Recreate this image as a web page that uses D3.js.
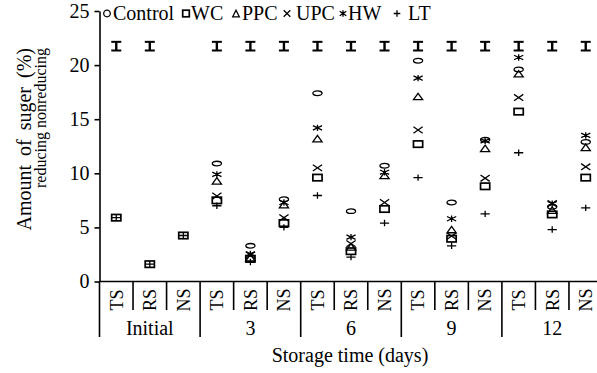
<!DOCTYPE html>
<html>
<head>
<meta charset="utf-8">
<script src="https://cdnjs.cloudflare.com/ajax/libs/d3/7.8.5/d3.min.js"></script>
<style>
  body { margin: 0; background: #fff; overflow: hidden; }
  text { font-family: "Liberation Serif", "Times New Roman", serif; fill: #000; }
</style>
</head>
<body>
<div id="chart"></div>
<script>
// groups along the x axis and the sugar type inside each group
const groups = ['Initial', '3', '6', '9', '12'];
const sugars = ['TS', 'RS', 'NS'];

// amount of sugar (%) for each treatment, one value per group x sugar
const control = [null, null, null, 10.9, 3.3, 7.6, 17.4, 6.5, 10.7, 20.4, 7.3, 13.1, 19.6, 6.9, 12.9];
const wc      = [5.9, 1.6, 4.25, 7.5, 2.1, 5.4, 9.6, 2.8, 6.7, 12.7, 3.95, 8.8, 15.7, 6.2, 9.6];
const ppc     = [null, null, null, 9.3, 2.2, 7.1, 13.2, 3.2, 9.8, 17.1, 4.8, 12.3, 19.2, 6.6, 12.4];
const upc     = [null, null, null, 7.9, 2.45, 5.9, 10.5, 3.5, 7.3, 14.0, 4.2, 9.55, 17.0, 7.2, 10.6];
const hw      = [null, null, null, 9.9, 2.55, 7.3, 14.2, 4.1, 10.1, 18.8, 5.8, 13.0, 20.7, 7.2, 13.5];
const lt      = [5.9, 1.6, 4.25, 7.0, 1.8, 5.0, 7.95, 2.25, 5.4, 9.6, 3.3, 6.25, 11.9, 4.8, 6.8];

// the "I" bars drawn above each column (centre and half height)
const barMid  = [21.75, 21.75, null, 21.75, 21.75, 21.75, 21.75, 21.75, 21.75, 21.75, 21.75, 21.75, 21.75, 21.75, 21.75];
const barHalf = [0.4, 0.4, null, 0.4, 0.4, 0.4, 0.4, 0.4, 0.4, 0.4, 0.4, 0.4, 0.4, 0.4, 0.4];

const yTicks = [0, 5, 10, 15, 20, 25];

const series = [
  { name: 'Control', values: control, shape: 'circle' },
  { name: 'WC', values: wc, shape: 'square' },
  { name: 'PPC', values: ppc, shape: 'triangle' },
  { name: 'UPC', values: upc, shape: 'cross' },
  { name: 'HW', values: hw, shape: 'star' },
  { name: 'LT', values: lt, shape: 'plus' }
];

const width = 597;
const height = 373;

const keys = [];
groups.forEach(g => sugars.forEach(s => keys.push(g + '|' + s)));

const x = d3.scaleBand().domain(keys).range([99.5, 602.5]).padding(0);
const y = d3.scaleLinear().domain([0, 25]).range([281.5, 11]);

const svg = d3.select('#chart')
  .append('svg')
  .attr('width', width)
  .attr('height', height);

svg.append('rect').attr('width', width).attr('height', height).attr('fill', '#fff');

// draws one marker; sx/sy are half width / half height
function marker(g, shape, sx, sy, round) {
  const sw = 1.3;
  if (shape === 'circle') {
    g.append('ellipse').attr('rx', sx).attr('ry', round ? sx : 2.3)
      .attr('fill', 'none').attr('stroke', '#000').attr('stroke-width', sw);
  } else if (shape === 'square') {
    g.append('rect').attr('x', -sx).attr('y', -sy).attr('width', sx * 2).attr('height', sy * 2)
      .attr('fill', 'none').attr('stroke', '#000').attr('stroke-width', sw + 0.4);
  } else if (shape === 'triangle') {
    g.append('path').attr('d', `M${-sx},${sy}L${sx},${sy}L0,${-sy}Z`)
      .attr('fill', 'none').attr('stroke', '#000').attr('stroke-width', sw);
  } else if (shape === 'cross') {
    g.append('path').attr('d', `M${-sx},${-sy}L${sx},${sy}M${-sx},${sy}L${sx},${-sy}`)
      .attr('stroke', '#000').attr('stroke-width', sw);
  } else if (shape === 'star') {
    g.append('path').attr('d', `M${-sx},${-sy * 0.7}L${sx},${sy * 0.7}M${-sx},${sy * 0.7}L${sx},${-sy * 0.7}M0,${-sy}L0,${sy}`)
      .attr('stroke', '#000').attr('stroke-width', sw);
    g.append('circle').attr('r', 1.4).attr('fill', '#000');
  } else if (shape === 'plus') {
    g.append('path').attr('d', `M${-sx},0L${sx},0M0,${-sy}L0,${sy}`)
      .attr('stroke', '#000').attr('stroke-width', sw);
  }
}

// y axis
const yAxis = svg.append('g')
  .attr('transform', 'translate(99.5,0)')
  .call(d3.axisLeft(y).tickValues(yTicks).tickSize(5).tickSizeOuter(0).tickPadding(5));
yAxis.select('.domain').attr('stroke', '#000').attr('stroke-width', 1.6);
yAxis.selectAll('.tick line').attr('stroke', '#000').attr('stroke-width', 1.6);
yAxis.selectAll('.tick text')
  .style('font-family', '"Liberation Serif", "Times New Roman", serif')
  .style('font-size', '20px')
  .attr('fill', '#000');

// extend the axis line down to the group separators
svg.append('line')
  .attr('x1', 99.5).attr('x2', 99.5).attr('y1', y(0)).attr('y2', 337)
  .attr('stroke', '#000').attr('stroke-width', 1.6);

// x axis line and column separators
svg.append('line')
  .attr('x1', 99.5).attr('x2', width).attr('y1', y(0)).attr('y2', y(0))
  .attr('stroke', '#000').attr('stroke-width', 1.6);

keys.forEach((k, i) => {
  if (i === 0) return;
  const xx = x(k);
  const isGroup = i % sugars.length === 0;
  svg.append('line')
    .attr('x1', xx).attr('x2', xx)
    .attr('y1', y(0)).attr('y2', isGroup ? 337 : 310)
    .attr('stroke', '#000').attr('stroke-width', 1.6);
});

// sugar labels, rotated
keys.forEach(k => {
  const cx = x(k) + x.bandwidth() / 2;
  svg.append('text')
    .attr('transform', `translate(${cx},300) rotate(-90)`)
    .attr('text-anchor', 'middle')
    .attr('dy', '0.35em')
    .style('font-size', '18px')
    .text(k.split('|')[1]);
});

// group labels
groups.forEach((g, i) => {
  const x0 = x(g + '|' + sugars[0]);
  const x1 = x(g + '|' + sugars[sugars.length - 1]) + x.bandwidth();
  svg.append('text')
    .attr('x', (x0 + x1) / 2)
    .attr('y', 335)
    .attr('text-anchor', 'middle')
    .style('font-size', '20px')
    .text(g);
});

svg.append('text')
  .attr('x', 350)
  .attr('y', 362)
  .attr('text-anchor', 'middle')
  .style('font-size', '20px')
  .text('Storage time (days)');

// y title, two lines
svg.append('text')
  .attr('transform', 'translate(31,48) rotate(-90)')
  .attr('text-anchor', 'end')
  .style('font-size', '20px')
  .style('word-spacing', '4px')
  .text('Amount of suger (%)');
svg.append('text')
  .attr('transform', 'translate(46,48) rotate(-90)')
  .attr('text-anchor', 'end')
  .style('font-size', '16px')
  .text('reducing nonreducing');

// "I" bars at the top
keys.forEach((k, i) => {
  if (barMid[i] == null) return;
  const cx = x(k) + x.bandwidth() / 2;
  const top = y(barMid[i] + barHalf[i]);
  const bot = y(barMid[i] - barHalf[i]);
  const g = svg.append('g').attr('stroke', '#000');
  g.append('line').attr('x1', cx - 5).attr('x2', cx + 5).attr('y1', top).attr('y2', top).attr('stroke-width', 2);
  g.append('line').attr('x1', cx - 5).attr('x2', cx + 5).attr('y1', bot).attr('y2', bot).attr('stroke-width', 2);
  g.append('line').attr('x1', cx).attr('x2', cx).attr('y1', top).attr('y2', bot).attr('stroke-width', 2.4);
});

// data markers
series.forEach(s => {
  s.values.forEach((v, i) => {
    if (v == null) return;
    const cx = x(keys[i]) + x.bandwidth() / 2;
    const g = svg.append('g').attr('transform', `translate(${cx},${y(v)})`);
    marker(g, s.shape, 4.6, 3.2, false);
  });
});

// legend
const legendItems = [
  { mx: 107, tx: 113 },
  { mx: 186, tx: 191 },
  { mx: 236, tx: 242 },
  { mx: 287, tx: 296 },
  { mx: 343, tx: 348 },
  { mx: 397, tx: 408 }
];
series.forEach((s, i) => {
  const g = svg.append('g').attr('transform', `translate(${legendItems[i].mx},13.5)`);
  marker(g, s.shape, 3.3, 3.3, true);
  svg.append('text')
    .attr('x', legendItems[i].tx)
    .attr('y', 19.5)
    .style('font-size', '20px')
    .text(s.name);
});
</script>
</body>
</html>
